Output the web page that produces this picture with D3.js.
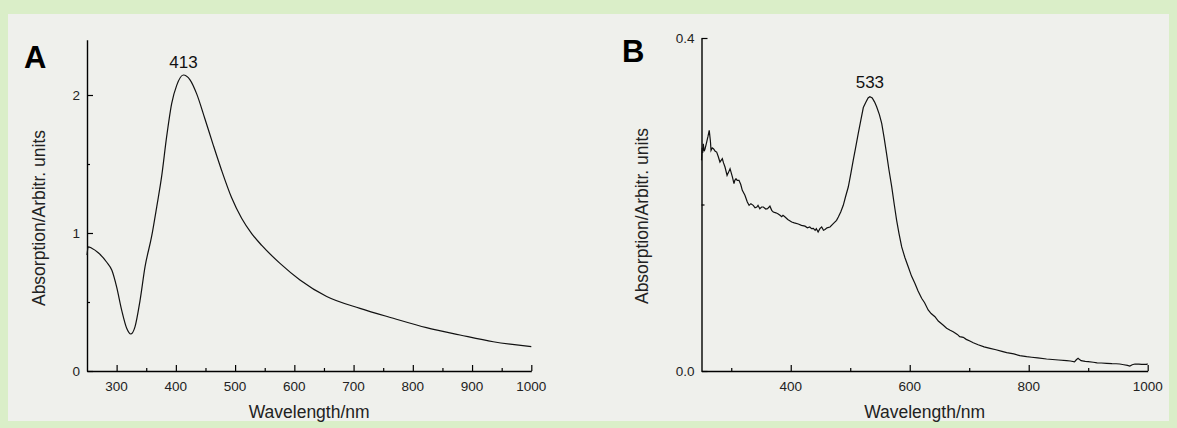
<!DOCTYPE html>
<html>
<head>
<meta charset="utf-8">
<script src="https://cdn.jsdelivr.net/npm/d3@7"></script>
<style>
  html, body { margin: 0; padding: 0; background: #daeec8; }
  svg { display: block; font-family: "Liberation Sans", Arial, sans-serif; }
</style>
</head>
<body>
<svg id="chart" width="1177" height="428"></svg>
<script>
// panel A: smooth spectrum
const wavelengthA = [250, 252, 258, 269, 283, 292, 300, 308.6, 317, 323.8, 331, 339.5, 348, 359, 367.7, 376, 384.5, 393, 401.4, 412.6, 423.9, 435, 449, 463, 477, 494, 511, 528, 545, 575.8, 609.5, 654.6, 710.8, 767, 823, 879.6, 935.8, 1000];
const absorbanceA = [0.84, 0.90, 0.89, 0.857, 0.79, 0.73, 0.61, 0.44, 0.31, 0.268, 0.32, 0.51, 0.756, 0.973, 1.19, 1.41, 1.70, 1.94, 2.07, 2.145, 2.11, 2.01, 1.828, 1.639, 1.457, 1.257, 1.107, 0.996, 0.91, 0.78, 0.66, 0.54, 0.454, 0.382, 0.314, 0.261, 0.212, 0.176];

// panel B: noisy spectrum
const wavelengthB = [250, 251, 252, 253, 254.5, 256, 258.7, 261, 263, 265, 266, 268, 270, 273, 275.5, 278, 281, 285, 287, 289.5, 293, 295, 298, 300, 302, 304.6, 306, 308, 310, 313, 316, 318.6, 323, 327, 330, 333, 337, 340, 343, 345, 348, 351, 354, 358, 361, 365, 368, 370.7, 375, 379, 382, 384.8, 387, 390, 395, 401.6, 406, 412.7, 418, 424, 428, 432, 435, 438, 441, 443, 446, 449, 452, 455, 457.6, 461, 466, 471.5, 477, 480, 484, 488.3, 492, 496.7, 501, 505, 509, 513.5, 518, 522, 526, 530, 533, 537, 541, 544.4, 549, 552.9, 557, 561, 565, 569.7, 574, 578, 582, 586.5, 592, 597.6, 603, 608.8, 614, 620, 625, 631, 636, 642.4, 648, 656, 662, 668, 673, 680, 684, 690, 695, 701, 706.8, 715, 725, 735, 745, 755, 763, 775, 785, 796.5, 805, 815, 830, 840, 850, 863.8, 870, 877, 880, 883, 885, 888, 895, 900, 908.5, 915, 922, 931, 940, 947, 953, 960, 966, 970, 974, 978.6, 985, 990, 998, 1000];
const absorbanceB = [0.253, 0.268, 0.262, 0.273, 0.264, 0.267, 0.275, 0.282, 0.289, 0.276, 0.265, 0.268, 0.267, 0.264, 0.263, 0.258, 0.251, 0.255, 0.25, 0.245, 0.235, 0.238, 0.243, 0.238, 0.233, 0.225, 0.229, 0.231, 0.229, 0.229, 0.224, 0.217, 0.211, 0.203, 0.199, 0.201, 0.199, 0.196, 0.197, 0.199, 0.195, 0.197, 0.197, 0.1946, 0.195, 0.198, 0.193, 0.191, 0.19, 0.1886, 0.187, 0.1853, 0.187, 0.1853, 0.182, 0.179, 0.178, 0.1766, 0.175, 0.174, 0.172, 0.173, 0.171, 0.1713, 0.169, 0.171, 0.167, 0.171, 0.173, 0.169, 0.170, 0.172, 0.173, 0.177, 0.181, 0.185, 0.191, 0.199, 0.209, 0.221, 0.237, 0.253, 0.268, 0.2855, 0.302, 0.3165, 0.3225, 0.328, 0.3295, 0.328, 0.323, 0.3175, 0.308, 0.2975, 0.28, 0.2615, 0.242, 0.2214, 0.2, 0.181, 0.165, 0.149, 0.136, 0.125, 0.114, 0.105, 0.096, 0.0873, 0.082, 0.0733, 0.069, 0.0652, 0.06, 0.0553, 0.0513, 0.049, 0.0472, 0.044, 0.0412, 0.0405, 0.038, 0.036, 0.034, 0.0315, 0.029, 0.0272, 0.0255, 0.0235, 0.022, 0.0205, 0.0185, 0.0172, 0.0165, 0.0158, 0.0144, 0.0138, 0.0132, 0.0124, 0.012, 0.011, 0.0135, 0.0152, 0.014, 0.0124, 0.0115, 0.0112, 0.0105, 0.0098, 0.0096, 0.0092, 0.0088, 0.0087, 0.0084, 0.0075, 0.0068, 0.006, 0.0075, 0.0084, 0.0082, 0.008, 0.008, 0.0085];

const xTicksA = [300, 400, 500, 600, 700, 800, 900, 1000];
const xMinorA = [350, 450, 550, 650, 750, 850, 950];
const yTicksA = [0, 1, 2];
const yMinorA = [0.5, 1.5];

const xTicksB = [400, 600, 800, 1000];
const xMinorB = [300, 500, 700, 900];
const yTicksB = [0.0, 0.4];
const yMinorB = [0.2];

const svg = d3.select("#chart");

svg.append("rect")
  .attr("x", 8).attr("y", 14)
  .attr("width", 1161).attr("height", 407)
  .attr("fill", "#eff0ec");

function drawPanel(opt) {
  const x = d3.scaleLinear().domain([250, 1000]).range(opt.xRange);
  const y = d3.scaleLinear().domain(opt.yDomain).range(opt.yRange);
  const g = svg.append("g");

  // x axis: ticks point inward
  g.append("g")
    .attr("transform", `translate(0,${opt.yRange[0]})`)
    .call(d3.axisTop(x).tickValues(opt.xMinor).tickSize(3).tickFormat(""))
    .call(a => a.select(".domain").remove());
  g.append("g")
    .attr("transform", `translate(0,${opt.yRange[0]})`)
    .call(d3.axisTop(x).tickValues(opt.xTicks).tickSize(6).tickSizeOuter(0).tickFormat(""))
    .call(a => a.select(".domain").attr("stroke-width", 1.4));
  g.selectAll(".xlab")
    .data(opt.xTicks)
    .join("text")
    .attr("x", d => x(d))
    .attr("y", opt.yRange[0] + 20)
    .attr("text-anchor", "middle")
    .attr("font-size", "13.5px")
    .attr("fill", "#222")
    .text(d => d);

  // y axis
  g.append("g")
    .attr("transform", `translate(${opt.xRange[0]},0)`)
    .call(d3.axisRight(y).tickValues(opt.yMinor).tickSize(3).tickFormat(""))
    .call(a => a.select(".domain").remove());
  g.append("g")
    .attr("transform", `translate(${opt.xRange[0]},0)`)
    .call(d3.axisRight(y).tickValues(opt.yTicks).tickSize(6).tickSizeOuter(0).tickFormat(""))
    .call(a => a.select(".domain").attr("stroke-width", 1.4));
  g.selectAll(".ylab")
    .data(opt.yTicks)
    .join("text")
    .attr("x", opt.xRange[0] - 7)
    .attr("y", d => y(d))
    .attr("dy", "0.35em")
    .attr("text-anchor", "end")
    .attr("font-size", "13.5px")
    .attr("fill", "#222")
    .text(opt.yFormat);

  g.selectAll(".tick line").attr("stroke-width", 1.2);

  const pts = opt.xs.map((w, i) => [w, opt.ys[i]]);
  g.append("path")
    .datum(pts)
    .attr("fill", "none")
    .attr("stroke", "#111")
    .attr("stroke-width", 1.2)
    .attr("d", d3.line().x(d => x(d[0])).y(d => y(d[1])).curve(opt.curve));

  g.append("text")
    .attr("x", (opt.xRange[0] + opt.xRange[1]) / 2)
    .attr("y", opt.yRange[0] + 47)
    .attr("text-anchor", "middle")
    .attr("font-size", "17.5px")
    .attr("fill", "#222")
    .text("Wavelength/nm");

  g.append("text")
    .attr("transform", `translate(${opt.yTitleX},${opt.yTitleY}) rotate(-90)`)
    .attr("text-anchor", "middle")
    .attr("font-size", "17.5px")
    .attr("fill", "#222")
    .text("Absorption/Arbitr. units");

  g.append("text")
    .attr("x", x(opt.peak))
    .attr("y", opt.peakY)
    .attr("text-anchor", "middle")
    .attr("font-size", "17px")
    .attr("fill", "#111")
    .text(opt.peak);

  g.append("text")
    .attr("x", opt.letterX)
    .attr("y", opt.letterY)
    .attr("font-size", "31px")
    .attr("font-weight", "bold")
    .attr("fill", "#000")
    .text(opt.letter);
}

drawPanel({
  xs: wavelengthA, ys: absorbanceA,
  xRange: [87, 531.3], yDomain: [0, 2.4], yRange: [371, 39.8],
  xTicks: xTicksA, xMinor: xMinorA, yTicks: yTicksA, yMinor: yMinorA,
  yFormat: d => d, curve: d3.curveMonotoneX,
  yTitleX: 45, yTitleY: 218, peak: 413, peakY: 68,
  letter: "A", letterX: 24, letterY: 68
});

drawPanel({
  xs: wavelengthB, ys: absorbanceB,
  xRange: [701.5, 1147.7], yDomain: [0, 0.4], yRange: [371, 38],
  xTicks: xTicksB, xMinor: xMinorB, yTicks: yTicksB, yMinor: yMinorB,
  yFormat: d3.format(".1f"), curve: d3.curveLinear,
  yTitleX: 648, yTitleY: 216, peak: 533, peakY: 88,
  letter: "B", letterX: 622, letterY: 62
});
</script>
</body>
</html>
